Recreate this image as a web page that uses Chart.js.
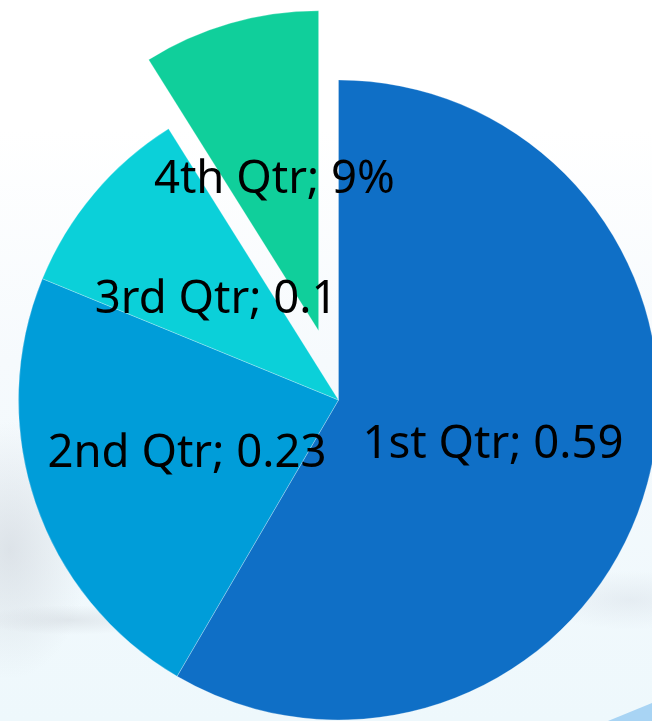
<!DOCTYPE html>
<html>
<head>
<meta charset="utf-8">
<script src="https://cdn.jsdelivr.net/npm/chart.js@4/dist/chart.umd.min.js"></script>
<style>
  html, body { margin: 0; padding: 0; }
  body {
    width: 652px; height: 721px; overflow: hidden; position: relative;
    background: linear-gradient(to bottom, #ffffff 0%, #ffffff 18%, #f6fafd 50%, #eef8fc 100%);
  }
  .blur1 {
    position: absolute; left: -70px; top: 420px; width: 160px; height: 260px;
    background: radial-gradient(ellipse at center, rgba(195,200,208,0.45) 0%, rgba(195,200,208,0) 70%);
  }
  .streak {
    position: absolute; left: -20px; top: 605px; width: 180px; height: 30px;
    background: radial-gradient(ellipse at center, rgba(205,210,216,0.45) 0%, rgba(205,210,216,0) 70%);
  }
  .blur2 {
    position: absolute; left: 540px; top: 570px; width: 180px; height: 60px;
    background: radial-gradient(ellipse at center, rgba(215,222,230,0.45) 0%, rgba(215,222,230,0) 70%);
  }
  .corner {
    position: absolute; left: 600px; top: 700px; width: 52px; height: 21px;
    background: #a8d4f4;
    clip-path: polygon(8px 21px, 52px 3px, 52px 21px);
  }
  #wrap { position: absolute; left: 0; top: 0; width: 652px; height: 721px; }
</style>
</head>
<body>
<div class="blur1"></div>
<div class="streak"></div>
<div class="blur2"></div>
<div class="corner"></div>
<div id="wrap"><canvas id="pieChart"></canvas></div>
<script>
const categories = ['1st Qtr', '2nd Qtr', '3rd Qtr', '4th Qtr'];
const values = [0.59, 0.23, 0.1, 0.09];
const valueLabels = ['0.59', '0.23', '0.1', '9%'];
const sliceColors = ['#0F6FC6', '#009DD9', '#0BD0D9', '#10CF9B'];

const pieRadius = 320;
// how far the 4th slice is pulled out, in px
const explodePx = [0, 0, 0, 72];

// Chart.js moves an arc by offset/4 but also grows and narrows it,
// so undo the grow/narrow part to get a plain shift of the slice
const plainExplode = {
  id: 'plainExplode',
  beforeDatasetsDraw(chart) {
    const meta = chart.getDatasetMeta(0);
    const base = meta.controller.outerRadius;
    meta.data.forEach((arc, i) => {
      if (!explodePx[i]) return;
      const fix = 1 - Math.sin(Math.min(Math.PI, arc.circumference));
      const radiusOffset = explodePx[i] * fix;
      const widen = radiusOffset / Math.PI / base / 2;
      const total = values.reduce((a, b) => a + b, 0);
      let start = -Math.PI / 2;
      for (let k = 0; k < i; k++) start += values[k] / total * Math.PI * 2;
      const end = start + values[i] / total * Math.PI * 2;
      arc.outerRadius = base - radiusOffset;
      arc.startAngle = start - widen;
      arc.endAngle = end + widen;
    });
  }
};

// draws "name; value" in the middle of each slice
const sliceLabels = {
  id: 'sliceLabels',
  afterDatasetsDraw(chart) {
    const ctx = chart.ctx;
    const meta = chart.getDatasetMeta(0);
    const r0 = meta.controller.outerRadius / 2;
    ctx.save();
    ctx.font = '45.5px "Noto Sans"';
    ctx.fillStyle = '#000000';
    ctx.textAlign = 'center';
    ctx.textBaseline = 'middle';
    meta.data.forEach((arc, i) => {
      const mid = (arc.startAngle + arc.endAngle) / 2;
      const r = r0 + explodePx[i];
      const x = arc.x + Math.cos(mid) * r;
      const y = arc.y + Math.sin(mid) * r + 3;
      ctx.fillText(categories[i] + '; ' + valueLabels[i], x, y);
    });
    ctx.restore();
  }
};

window.addEventListener('DOMContentLoaded', () => {
  const ctx = document.getElementById('pieChart').getContext('2d');
  new Chart(ctx, {
    type: 'pie',
    data: {
      labels: categories,
      datasets: [{
        data: values,
        backgroundColor: sliceColors,
        borderColor: 'rgba(255,255,255,0.5)',
        borderWidth: 0.5,
        offset: explodePx.map(p => p * 4),
        clip: false
      }]
    },
    options: {
      responsive: true,
      maintainAspectRatio: false,
      animation: false,
      radius: pieRadius,
      layout: { padding: { left: 25, right: 0, top: 79, bottom: 0 } },
      plugins: {
        legend: { display: false },
        tooltip: { enabled: false }
      }
    },
    plugins: [plainExplode, sliceLabels]
  });
});
</script>
</body>
</html>
